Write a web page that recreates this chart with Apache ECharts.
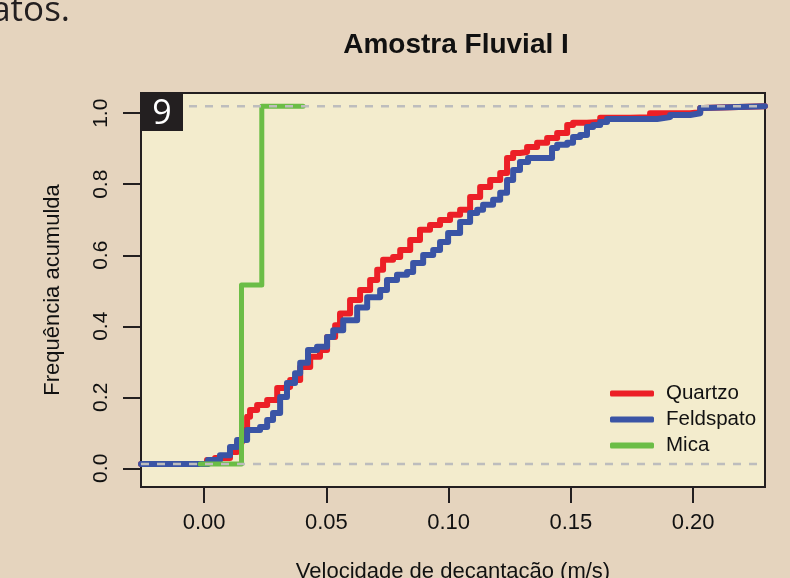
<!DOCTYPE html>
<html>
<head>
<meta charset="utf-8">
<script src="https://cdn.jsdelivr.net/npm/echarts@6/dist/echarts.min.js"></script>
<style>
html,body{margin:0;padding:0;background:#E5D4BE;}
#c{width:790px;height:578px;}
</style>
</head>
<body>
<div id="c"></div>
<script>
// ---- data ----
const seriesNames = ['Quartzo', 'Feldspato', 'Mica'];
const xTicks = [0, 0.05, 0.10, 0.15, 0.20];
const yTicks = [0, 0.2, 0.4, 0.6, 0.8, 1.0];
const xRange = [-0.0258, 0.2294];
const yRange = [-0.0527, 1.057];
const refLevels = [0.012, 1.020];

const quartzo = [
  [-0.0258, 0.012], [0.0012, 0.023], [0.0045, 0.029], [0.0106, 0.046], [0.0135, 0.074],
  [0.0155, 0.108], [0.0176, 0.145], [0.0188, 0.164], [0.0217, 0.178], [0.0258, 0.192],
  [0.0299, 0.226], [0.0323, 0.229], [0.0352, 0.249], [0.0393, 0.285], [0.0434, 0.314],
  [0.0474, 0.333], [0.0503, 0.370], [0.0536, 0.403], [0.0556, 0.436], [0.0597, 0.474],
  [0.0638, 0.502], [0.0679, 0.530], [0.0708, 0.559], [0.0732, 0.587], [0.0773, 0.595],
  [0.0802, 0.615], [0.0843, 0.643], [0.0883, 0.672], [0.0924, 0.685], [0.0965, 0.699],
  [0.1006, 0.714], [0.1047, 0.728], [0.1088, 0.764], [0.1129, 0.792], [0.1170, 0.812],
  [0.1211, 0.832], [0.1239, 0.874], [0.1264, 0.888], [0.1292, 0.891], [0.1321, 0.905],
  [0.1362, 0.917], [0.1403, 0.930], [0.1444, 0.944], [0.1485, 0.967], [0.1509, 0.973],
  [0.1566, 0.975], [0.1620, 0.987], [0.1742, 0.989], [0.1824, 1.000], [0.1988, 1.003],
  [0.2029, 1.015], [0.2041, 1.020], [0.2294, 1.020]
];
const feldspato = [
  [-0.0258, 0.012], [0.0016, 0.023], [0.0065, 0.037], [0.0106, 0.060], [0.0135, 0.080],
  [0.0176, 0.108], [0.0229, 0.116], [0.0258, 0.136], [0.0282, 0.156], [0.0311, 0.201],
  [0.0339, 0.240], [0.0372, 0.268], [0.0393, 0.297], [0.0425, 0.333], [0.0462, 0.342],
  [0.0503, 0.370], [0.0528, 0.389], [0.0569, 0.417], [0.0626, 0.453], [0.0667, 0.482],
  [0.0720, 0.502], [0.0748, 0.530], [0.0789, 0.545], [0.0830, 0.553], [0.0855, 0.578],
  [0.0896, 0.601], [0.0937, 0.615], [0.0965, 0.637], [0.0998, 0.663], [0.1047, 0.694],
  [0.1088, 0.719], [0.1117, 0.728], [0.1141, 0.742], [0.1182, 0.756], [0.1211, 0.776],
  [0.1239, 0.812], [0.1264, 0.840], [0.1292, 0.863], [0.1325, 0.874], [0.1423, 0.902],
  [0.1444, 0.911], [0.1485, 0.917], [0.1509, 0.933], [0.1538, 0.939], [0.1566, 0.961],
  [0.1591, 0.967], [0.1620, 0.975], [0.1648, 0.984], [0.1853, 0.989], [0.1906, 0.995],
  [0.1988, 1.000], [0.2029, 1.015], [0.2041, 1.020], [0.2294, 1.020]
];
const mica = [
  [-0.0016, 0.012], [0.0153, 0.516], [0.0236, 1.020], [0.0405, 1.020]
];

// ---- styles ----
const colors = ['#EC1F26', '#3A54A5', '#6BBD46'];
const ink = '#231F20';
const fontR = '"Liberation Sans", Arial, sans-serif';

const chart = echarts.init(document.getElementById('c'), null, {renderer: 'canvas'});

function refSeries(level) {
  return {
    type: 'line', name: 'ref' + level, silent: true, z: 5,
    data: [[xRange[0], level], [xRange[1], level]],
    showSymbol: false, symbol: 'none',
    lineStyle: {color: '#BDBDBD', width: 2.5, type: [8, 8]},
    legendHoverLink: false
  };
}

const option = {
  backgroundColor: '#E5D4BE',
  animation: false,
  grid: {
    left: 141, right: 25, top: 93, bottom: 91,
    containLabel: false, outerBoundsMode: 'none',
    show: true, backgroundColor: '#F3ECCD', borderColor: ink, borderWidth: 2
  },
  legend: {
    data: seriesNames,
    orient: 'vertical', left: 605, top: 378,
    itemWidth: 44, itemHeight: 6, itemGap: 5, icon: 'roundRect',
    textStyle: {fontFamily: fontR, fontSize: 20.5, color: '#111', padding: [0, 0, 0, 7]}
  },
  xAxis: {
    type: 'value', min: xRange[0], max: xRange[1],
    name: 'Velocidade de decantação (m/s)', nameLocation: 'middle', nameGap: 74,
    nameTextStyle: {fontFamily: fontR, fontSize: 22, color: '#111'},
    axisLine: {show: false, onZero: false},
    axisTick: {show: true, length: 16, customValues: xTicks, lineStyle: {color: ink, width: 2}},
    axisLabel: {customValues: xTicks, margin: 25, fontFamily: fontR, fontSize: 22, color: '#111',
      formatter: v => v.toFixed(2)},
    splitLine: {show: false}
  },
  yAxis: {
    type: 'value', min: yRange[0], max: yRange[1],
    name: 'Frequência acumulda', nameLocation: 'middle', nameGap: 77,
    nameTextStyle: {fontFamily: fontR, fontSize: 22, color: '#111'},
    axisLine: {show: false, onZero: false},
    axisTick: {show: true, length: 18, customValues: yTicks, lineStyle: {color: ink, width: 2}},
    axisLabel: {customValues: yTicks, margin: 29, rotate: 90, fontFamily: fontR, fontSize: 21, color: '#111',
      formatter: v => v.toFixed(1)},
    splitLine: {show: false}
  },
  series: [
    {name: seriesNames[0], type: 'line', step: 'end', data: quartzo, showSymbol: false, symbol: 'none',
      color: colors[0], lineStyle: {color: colors[0], width: 6, cap: 'round', join: 'round'}, z: 2},
    {name: seriesNames[1], type: 'line', step: 'end', data: feldspato, showSymbol: false, symbol: 'none',
      color: colors[1], lineStyle: {color: colors[1], width: 6, cap: 'round', join: 'round'}, z: 3},
    {name: seriesNames[2], type: 'line', step: 'end', data: mica, showSymbol: false, symbol: 'none',
      color: colors[2], lineStyle: {color: colors[2], width: 5, cap: 'round', join: 'round'}, z: 4},
    refSeries(refLevels[0]),
    refSeries(refLevels[1])
  ],
  graphic: [
    {type: 'text', style: {text: 'atos.', x: 70, y: 11, textAlign: 'right', verticalAlign: 'middle',
      font: '35px "Open Sans", "Noto Sans", sans-serif', fill: ink}},
    {type: 'text', style: {text: 'Amostra Fluvial I', x: 456, y: 45, textAlign: 'center', verticalAlign: 'middle',
      font: 'bold 28px ' + fontR, fill: '#111'}},
    {type: 'rect', shape: {x: 141, y: 93, width: 42, height: 38}, style: {fill: ink}, z: 100},
    {type: 'text', style: {text: '9', x: 162, y: 114.5, textAlign: 'center', verticalAlign: 'middle',
      font: '34px "Open Sans", "Noto Sans", sans-serif', fill: '#FFFFFF'}, z: 101}
  ]
};
chart.setOption(option);
</script>
</body>
</html>
